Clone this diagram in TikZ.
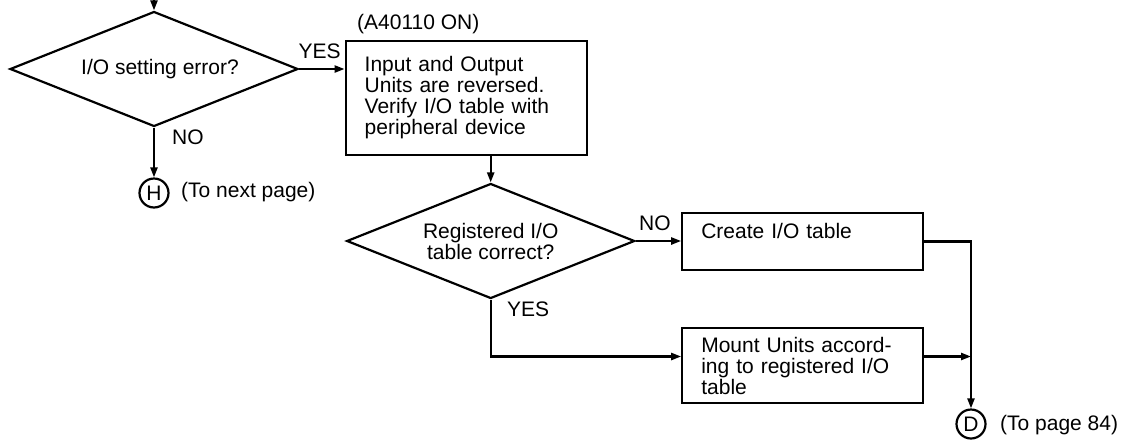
\documentclass[tikz,border=0pt]{standalone}
\usepackage{fontspec}
\setmainfont{Liberation Sans}
\usetikzlibrary{shapes.geometric,arrows.meta}
\begin{document}
\begin{tikzpicture}[x=1pt,y=-1pt,
  every node/.style={font=\fontsize{21}{21}\selectfont},
  arr/.style={line width=2.2pt,-{Triangle[length=10pt,width=7pt]}},
  dec/.style={draw,line width=2.2pt,shape=diamond,aspect=2.5,inner sep=0pt,minimum width=288pt,minimum height=115pt,align=center},
  proc/.style={draw,line width=2.2pt,rectangle,inner xsep=19pt,inner ysep=0pt,text width=203pt,align=left},
  conn/.style={draw,line width=2.2pt,circle,inner sep=0pt,minimum size=29pt},
  lbl/.style={inner sep=0pt,anchor=base west}]
\useasboundingbox (0,0) rectangle (1121,445);

\coordinate (top) at (154,0);
\node[dec] (d1) at (154,69) {\hspace*{12pt}I/O setting error?};
\node[proc,minimum height=114pt] (b1) at (466.2,97.9)
  {Input and Output\\Units are reversed.\\Verify I/O table with\\peripheral device};
\node[lbl] (a4) at (357,29.5) {(A40110 ON)};
\node[conn] (H) at (154,193) {H};
\node[lbl] (tnp) at (181,197.5) {(To next page)};
\node[dec] (d2) at (490.7,241) {Registered I/O\\table correct?};
\node[proc,minimum height=57pt] (b2) at (802.8,241.4) {Create I/O table\\\mbox{}};
\node[proc,minimum height=75.6pt] (b3) at (802.8,365.5)
  {Mount Units accord-\\ing to registered I/O\\table};
\node[conn] (D) at (971,424) {D};
\node[lbl] (tp84) at (1000,430.5) {(To page 84)};

\node[lbl] (yes1) at (298.5,58) {YES};
\node[lbl] (no1) at (172,144) {NO};
\node[lbl] (no2) at (639,230) {NO};
\node[lbl] (yes2) at (507,316.5) {YES};

\draw[arr] (top) -- (d1.north);
\draw[arr] (d1.east) -- (d1.east -| b1.west);
\draw[arr] (d1.south) -- (H.north);
\draw[arr] (b1.south -| d2.north) -- (d2.north);
\draw[arr] (d2.east) -- (d2.east -| b2.west);
\draw[arr] (d2.south) |- ([yshift=9pt]b3.west);
\draw[arr] (b2.east) -| (D.north);
\draw[arr] ([yshift=9pt]b3.east) -- ([yshift=9pt]b3.east -| D.north);
\end{tikzpicture}
\end{document}
